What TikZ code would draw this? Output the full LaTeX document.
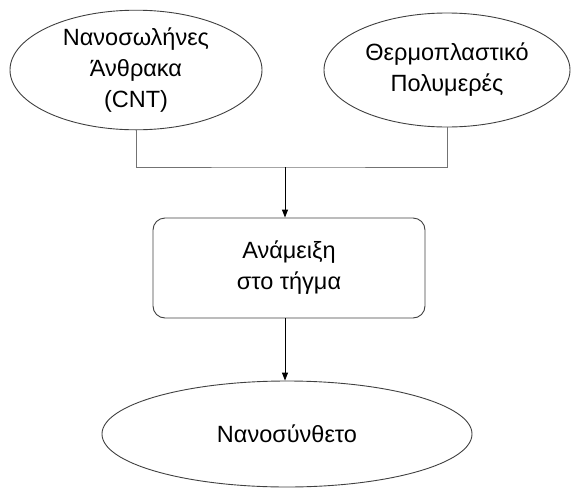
\documentclass[tikz,border=0pt]{standalone}
\usepackage{fontspec}
\setmainfont{Liberation Sans}
\usetikzlibrary{shapes.geometric,arrows.meta,positioning}
\tikzset{
  elli/.style={ellipse, draw=black!75, line width=0.9pt, inner sep=0pt, align=center,
    font=\fontsize{23.5}{31}\selectfont},
  stepbox/.style={rectangle, rounded corners=12pt, draw=black!75, line width=0.9pt,
    inner sep=0pt, align=center, minimum width=272pt, minimum height=100pt,
    font=\fontsize{23.5}{31}\selectfont},
  joinline/.style={draw=black!55, line width=0.8pt},
  arr/.style={draw=black, line width=0.9pt, -{Triangle[length=8pt,width=6pt]}}
}
\begin{document}
\begin{tikzpicture}[x=1pt,y=-1pt]
  \useasboundingbox (0,0) rectangle (571,488);
  % inputs
  \node[elli, minimum width=252pt, minimum height=114pt] (cnt) at (136,70)
    {Νανοσωλήνες\\Άνθρακα\\(CNT)};
  \node[elli, minimum width=246pt, minimum height=114pt] (poly) at (447,70)
    {Θερμοπλαστικό\\Πολυμερές};
  % process
  \node[stepbox] (mix) at (289,268) {Ανάμειξη\\στο τήγμα};
  % product
  \node[elli, minimum width=370pt, minimum height=106pt] (nano) at (287,434)
    {Νανοσύνθετο};
  \coordinate (join) at (285,167);
  \draw[joinline] (cnt.south) |- (join) -| (poly.south);
  \draw[arr] (join) -- (join |- mix.north);
  \draw[arr] (mix.south -| join) -- (nano.north -| join);
\end{tikzpicture}
\end{document}
